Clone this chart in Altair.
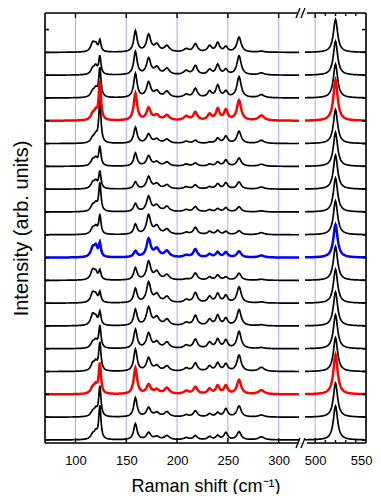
import altair as alt
import pandas as pd
import numpy as np

# ---- data (peak heights in px above each baseline) ----
peak_pos  = [117, 120, 124, 159, 172, 180, 190, 209, 218, 232, 240, 248, 261, 283, 520]
peak_hwhm = [2.4, 1.8, 1.3, 2.0, 2.5, 3.0, 3.0, 3.0, 2.4, 2.4, 2.2, 2.2, 2.5, 3.5, 2.5]

# spectra listed from top (0) to bottom (17)
a117 = [9, 6, 6, 6, 5, 6, 6, 6, 6, 9, 10, 10, 11, 6, 7, 6, 5, 5]
a120 = [6, 7, 7, 7, 6, 6, 6, 6, 6, 9, 6, 6, 6, 6, 7, 7, 6, 6]
a124 = [11, 18, 29, 38, 42, 19, 17, 28, 19, 13, 9, 10, 13, 22, 28, 30, 30, 33]
a159 = [21, 23, 24, 27, 16, 13, 7, 8, 10, 6, 12, 14, 16, 19, 22, 26, 19, 16]
a172 = [17, 16, 15, 12, 9, 10, 12, 15, 19, 18, 18, 20, 18, 15, 13, 9, 9, 7]
a180 = [7, 7, 6, 5, 4, 4, 5, 6, 8, 8, 8, 8, 8, 6, 5, 4, 4, 3]
a190 = [6, 6, 6, 5, 4, 4, 4, 5, 5, 6, 5, 6, 6, 6, 5, 6, 5, 4]
a209 = [3, 4, 3, 4, 2, 2, 2, 2, 2, 2, 1, 3, 3, 3, 3, 3, 2, 2]
a218 = [8, 9, 9, 8, 3, 3, 4, 5, 7, 8, 7, 10, 10, 9, 8, 7, 6, 4]
a232 = [6, 5, 6, 6, 1, 2, 2, 2, 3, 3, 3, 6, 6, 6, 5, 5, 3, 3]
a240 = [9, 10, 12, 11, 5, 4, 5, 3, 4, 5, 5, 9, 10, 9, 8, 8, 4, 4]
a248 = [5, 5, 6, 10, 7, 6, 6, 4, 3, 5, 3, 7, 7, 8, 7, 8, 8, 7]
a261 = [15, 19, 21, 20, 12, 8, 7, 5, 4, 6, 7, 16, 16, 17, 16, 14, 11, 8]
a283 = [1, 2, 3, 5, 3, 2, 2, 1, 2, 2, 1, 1, 1, 1, 4, 4, 2, 3]
a520 = [33, 34, 34, 41, 34, 34, 34, 34, 34, 33, 34, 34, 34, 34, 34, 40, 34, 34]

spectrum_color = ["k", "k", "k", "r", "k", "k", "k", "k", "k",
                  "b", "k", "k", "k", "k", "k", "r", "k", "k"]

x_ticks_major = [100, 150, 200, 250, 300, 500]
x_ticks_minor = [510, 520, 530, 540]
x_labels = [100, 150, 200, 250, 300, 500, 550]
grid_lines = [100, 150, 200, 250, 300, 500]
y_ticks = [0, 1, 2, 3, 4, 5, 6, 7, 8, 9, 10, 11, 12, 13, 14, 15, 16, 17, 18]

STEP = 22.8
amps = [a117, a120, a124, a159, a172, a180, a190, a209, a218, a232,
        a240, a248, a261, a283, a520]

x_left = np.arange(70, 320.001, 0.5)
x_right = np.arange(490, 550.001, 0.5)

frames = []
n = len(spectrum_color)
for i in range(n):
    base = (n - 1 - i) * STEP
    for seg, xs in ((0, x_left), (1, x_right)):
        y = np.full_like(xs, base, dtype=float)
        for c, w, a in zip(peak_pos, peak_hwhm, amps):
            y = y + a[i] / (1.0 + ((xs - c) / w) ** 2)
        frames.append(pd.DataFrame({"x": xs, "y": y, "key": f"{i:02d}_{seg}",
                                    "c": spectrum_color[i]}))
df = pd.concat(frames, ignore_index=True)
df_k = df[df.c == "k"]
df_c = df[df.c != "k"]

W, H = 321, 430
xscale = alt.Scale(domain=[70, 320, 490, 550], range=[0, 254, 260, 321])
yscale = alt.Scale(domain=[-3, 427], nice=False, zero=False)
cscale = alt.Scale(domain=["k", "r", "b"], range=["#000000", "#ff0000", "#0000ff"])

xaxis = alt.Axis(values=x_labels, ticks=False, domain=False, grid=False,
                 labelFontSize=13, labelPadding=11, labelFont="Liberation Sans",
                 labelColor="#000", title="Raman shift (cm\u207b\u00b9)", titleFontSize=18,
                 titleFont="Liberation Sans", titleFontWeight="normal", titlePadding=10,
                 titleColor="#000", labelFlush=True, labelFlushOffset=6,
                 labelOverlap=False)
yaxis = alt.Axis(labels=False, ticks=False, domain=False, grid=False,
                 title="Intensity (arb. units)", titleFontSize=20, titleFont="Liberation Sans",
                 titleFontWeight="normal", titlePadding=14, titleColor="#000")

X = lambda f: alt.X(f, scale=xscale, axis=xaxis)
Y = lambda f: alt.Y(f, scale=yscale, axis=yaxis)

grid = alt.Chart(pd.DataFrame({"v": grid_lines})).mark_rule(
    color="#a8a8ff", strokeWidth=1).encode(x=X("v:Q"))

lines_k = alt.Chart(df_k).mark_line(strokeWidth=1.7, clip=True).encode(
    x=X("x:Q"), y=Y("y:Q"), detail="key:N",
    color=alt.Color("c:N", scale=cscale, legend=None),
)
lines_c = alt.Chart(df_c).mark_line(strokeWidth=2.5, clip=True).encode(
    x=X("x:Q"), y=Y("y:Q"), detail="key:N",
    color=alt.Color("c:N", scale=cscale, legend=None),
)

# frame
fr = pd.DataFrame({"x1": [70, 492, 70, 492], "x2": [319, 550, 319, 550],
                   "yy": [427, 427, -3, -3]})
frame_h = alt.Chart(fr).mark_rule(color="#000", strokeWidth=1.6).encode(
    x=X("x1:Q"), x2="x2:Q", y=Y("yy:Q"))
frame_v = alt.Chart(pd.DataFrame({"v": [70, 550]})).mark_rule(
    color="#000", strokeWidth=1.6).encode(x=X("v:Q"))

# ticks
ytk = pd.DataFrame({"v": [t * STEP for t in y_ticks]})
ytick_l = alt.Chart(ytk).mark_rule(color="#000", strokeWidth=1.6).encode(
    y=Y("v:Q"), x=alt.value(0), x2=alt.value(4))
ytick_r = alt.Chart(ytk).mark_rule(color="#000", strokeWidth=1.6).encode(
    y=Y("v:Q"), x=alt.value(W - 4), x2=alt.value(W))
xmaj = pd.DataFrame({"v": x_ticks_major})
xmin = pd.DataFrame({"v": x_ticks_minor})
xt = []
for d, ln in ((xmaj, 5), (xmin, 3)):
    xt.append(alt.Chart(d).mark_rule(color="#000", strokeWidth=1.4).encode(
        x=X("v:Q"), y=alt.value(0), y2=alt.value(ln)))
    xt.append(alt.Chart(d).mark_rule(color="#000", strokeWidth=1.4).encode(
        x=X("v:Q"), y=alt.value(H), y2=alt.value(H - ln)))

# axis break marks
brk = []
for yb in (0, H):
    for dx in (0, 5):
        brk.append(alt.Chart(pd.DataFrame({"a": [0]})).mark_rule(
            color="#000", strokeWidth=1.3).encode(
            x=alt.value(251 + dx), x2=alt.value(255 + dx),
            y=alt.value(yb + 5), y2=alt.value(yb - 5)))

chart = alt.layer(grid, lines_k, lines_c, frame_h, frame_v, ytick_l, ytick_r,
                  *xt, *brk).properties(
    width=W, height=H,
    autosize=alt.AutoSizeParams(type="none"),
    padding={"left": 37, "top": 5, "right": 7, "bottom": 51},
).configure_view(stroke=None).configure(background="white")

chart.save("out.html", embed_options={"renderer": "svg", "actions": False})
